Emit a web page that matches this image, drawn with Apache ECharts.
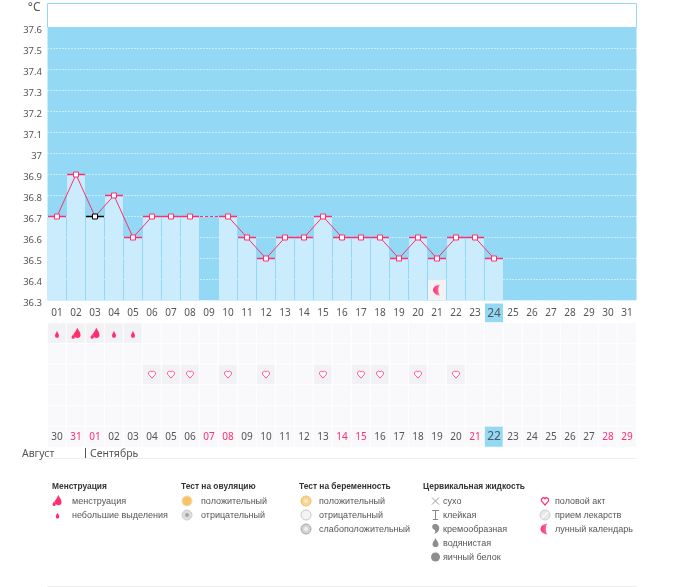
<!DOCTYPE html>
<html>
<head>
<meta charset="utf-8">
<title>График БТ</title>
<style>
html, body { margin: 0; padding: 0; background: #fff; }
#chart { width: 675px; height: 587px; }
</style>
<script src="https://cdn.jsdelivr.net/npm/echarts@6/dist/echarts.min.js"></script>
</head>
<body>
<div id="chart"></div>
<script>
var days = ['01','02','03','04','05','06','07','08','09','10','11','12','13','14','15','16',
    '17','18','19','20','21','22','23','24','25','26','27','28','29','30','31'];
var cycleDates = ['30','31','01','02','03','04','05','06','07','08','09','10','11','12','13','14',
    '15','16','17','18','19','20','21','22','23','24','25','26','27','28','29'];
var weekendDates = ['31','07','08','14','15','21','28','29'];
var temperature = [36.7,36.9,36.7,36.8,36.6,36.7,36.7,36.7,null,36.7,36.6,36.5,36.6,36.6,36.7,36.6,
    36.6,36.6,36.5,36.6,36.5,36.6,36.6,36.5];
var skippedBridge = [null,null,null,null,null,null,null,36.7,null,36.7];
var excludedDays = ['03'];
var moonDays = ['21'];
var moonLevel = 36.35;
var heavyFlowDays = ['02','03'];
var lightFlowDays = ['01','04','05'];
var sexDays = ['06','07','08','10','12','15','17','18','20','22'];
var rows = ['flow','ovulation','sex','mucus','pills','dates'];
var todayDay = '24';
var todayDate = '22';
var months = ['Август','Сентябрь'];
var legendTitles = ['Менструация','Тест на овуляцию','Тест на беременность','Цервикальная жидкость'];
var flowLabels = ['менструация','небольшие выделения'];
var ovulationLabels = ['положительный','отрицательный'];
var pregnancyLabels = ['положительный','отрицательный','слабоположительный'];
var mucusLabels = ['сухо','клейкая','кремообразная','водянистая','яичный белок'];
var otherLabels = ['половой акт','прием лекарств','лунный календарь'];

var FONT = '"Noto Sans", sans-serif';
var LEGEND_FONT = '"Liberation Sans", sans-serif';
var PINK = '#FF2E6C';
var BLUE = '#93D9F5';
var TEXT = '#555555';

var DROP = 'M5 0C6 4 10 7 10 11A5 5 0 0 1 0 11C0 7 4 4 5 0Z';
var DROPS = 'M7 0C8 3 11 5 11 9A4 4 0 0 1 3.6 11.4C3.6 10 3 9 2.4 8.6C3.6 6 6 4 7 0ZM2 8C2.4 10 4 11 4 12.4A2 2 0 0 1 0 12.4C0 11 1.6 10 2 8Z';
var HEART = 'M5 9L1 5A2.5 2.5 0 0 1 5 2A2.5 2.5 0 0 1 9 5Z';
var MOON = 'M6 0A6 6 0 0 0 6 12A2 6 0 0 1 6 0Z';
var CROSS = 'M0 0L10 10M10 0L0 10';
var GLASS = 'M0 0H8M4 0V10M1 10H7';
var COMMA = 'M4 0C8 0 10 3 9 6C8 9 6 10 3 11C5 9 5 7 3 6C0 5 0 0 4 0Z';
var SLASH = 'M0 10L10 0';

// фигуры для легенды: graphic понимает только зарегистрированные типы
var iconBox = {
    drop: { d: DROP, w: 10, h: 16 },
    drops: { d: DROPS, w: 11, h: 14.4 },
    heart: { d: HEART, w: 10, h: 9 },
    moon: { d: MOON, w: 6, h: 12 },
    cross: { d: CROSS, w: 10, h: 10 },
    glass: { d: GLASS, w: 8, h: 10 },
    comma: { d: COMMA, w: 9.5, h: 11 },
    slash: { d: SLASH, w: 10, h: 10 }
};
Object.keys(iconBox).forEach(function (k) {
    echarts.graphic.registerShape('icon_' + k, echarts.graphic.extendPath(iconBox[k].d, {}));
});

var moonFill = new echarts.graphic.LinearGradient(0, 0, 1, 0, [
    { offset: 0, color: '#FF2E6C' },
    { offset: 0.6, color: '#FF5C8D' },
    { offset: 1, color: '#FFB3C8' }
]);

function dayPoints(list, rowName) {
    return list.map(function (d) {
        return [d, rowName];
    });
}

// дни цикла и пустые ячейки под графиком
function cellData() {
    var out = [];
    rows.forEach(function (row, r) {
        days.forEach(function (d, i) {
            var active = (row === 'flow' && (heavyFlowDays.indexOf(d) >= 0 || lightFlowDays.indexOf(d) >= 0))
                || (row === 'sex' && sexDays.indexOf(d) >= 0);
            var item = {
                value: [i, r, 1],
                itemStyle: { color: active ? '#F2F2F4' : '#F9F8FA' }
            };
            if (row === 'dates') {
                var date = cycleDates[i];
                var today = date === todayDate && i === 23;
                var isPink = weekendDates.indexOf(date) >= 0 || i === 2;
                item.name = date;
                item.label = {
                    show: true,
                    color: isPink ? PINK : TEXT,
                    fontSize: today ? 12 : 10
                };
                if (today) {
                    item.itemStyle = { color: BLUE };
                }
            }
            out.push(item);
        });
    });
    return out;
}

function text(str, x, y, opts) {
    return {
        type: 'text',
        x: x,
        y: y,
        silent: true,
        style: Object.assign({
            text: str,
            fill: TEXT,
            font: '9px ' + LEGEND_FONT,
            verticalAlign: 'middle'
        }, opts || {})
    };
}

function icon(kind, cx, cy, w, h, style) {
    var box = iconBox[kind];
    return {
        type: 'icon_' + kind,
        silent: true,
        x: cx - w / 2,
        y: cy - h / 2,
        scaleX: w / box.w,
        scaleY: h / box.h,
        style: style
    };
}

function ring(cx, cy, r, fill, stroke) {
    return {
        type: 'circle',
        silent: true,
        shape: { cx: cx, cy: cy, r: r },
        style: { fill: fill, stroke: stroke || null, lineWidth: 1 }
    };
}

function legendGraphics() {
    var g = [];
    var textY = [502, 516, 530, 544, 558];
    var titleX = [52, 181, 299, 423];
    var GRAY = '#8E8E8E';

    legendTitles.forEach(function (t, i) {
        g.push(text(t, titleX[i], 487, { fill: '#333333', font: 'bold 8.4px ' + LEGEND_FONT }));
    });
    flowLabels.forEach(function (t, i) { g.push(text(t, 72, textY[i])); });
    ovulationLabels.forEach(function (t, i) { g.push(text(t, 201, textY[i])); });
    pregnancyLabels.forEach(function (t, i) { g.push(text(t, 319, textY[i])); });
    mucusLabels.forEach(function (t, i) { g.push(text(t, 443, textY[i])); });
    otherLabels.forEach(function (t, i) { g.push(text(t, 555, textY[i])); });

    g.push(icon('drops', 57, 500.5, 9, 11, { fill: PINK }));
    g.push(icon('drop', 57.5, 515.5, 3.5, 6, { fill: PINK }));

    g.push(ring(187, 501, 5, '#F5C468', '#F8DDAE'));
    g.push(ring(187, 515, 5, '#DDDDDD', '#CFCFCF'));
    g.push(ring(187, 515, 2, '#A5A5A5'));

    g.push(ring(306, 501, 5, '#F7D594', '#F3BE63'));
    g.push(ring(306, 501, 2, '#FBEBCB'));
    g.push(ring(306, 515, 5, '#F4F4F4', '#C8C8C8'));
    g.push(ring(306, 529, 5, '#D4D4D4', '#A9A9A9'));
    g.push(ring(306, 529, 2, '#F0F0F0'));

    g.push(icon('cross', 435.5, 501, 7, 7, { stroke: '#999999', fill: null, lineWidth: 1, strokeNoScale: true }));
    g.push(icon('glass', 435.5, 515, 7, 9, { stroke: '#888888', fill: null, lineWidth: 1, strokeNoScale: true }));
    g.push(icon('comma', 435.5, 529, 8, 10, { fill: GRAY }));
    g.push(icon('drop', 435.5, 542.5, 6, 9, { fill: GRAY }));
    g.push(ring(435.5, 557, 4.5, GRAY));

    g.push(icon('heart', 545, 501, 8, 8, { fill: '#fff', stroke: PINK, lineWidth: 1.2, strokeNoScale: true }));
    g.push(ring(545, 515, 5, '#E8E8E8', '#CFCFCF'));
    g.push(icon('slash', 545, 515, 6, 6, { stroke: '#FFFFFF', fill: null, lineWidth: 1.2, strokeNoScale: true }));
    g.push(icon('moon', 544.5, 529, 8, 11, { fill: moonFill }));
    return g;
}

var chart = echarts.init(document.getElementById('chart'), null, { renderer: 'canvas' });

var option = {
    animation: false,
    backgroundColor: '#fff',
    textStyle: { fontFamily: FONT },
    grid: [
        { left: 47.5, top: 27.5, width: 589, height: 273, show: true, backgroundColor: BLUE, borderWidth: 0 },
        { left: 47.5, top: 323, width: 589, height: 124 }
    ],
    xAxis: [{
        type: 'category',
        gridIndex: 0,
        data: days,
        axisLine: { show: false },
        axisTick: { show: false },
        axisLabel: {
            interval: 0,
            margin: 13,
            color: TEXT,
            fontSize: 10,
            verticalAlign: 'middle',
            formatter: function (v) {
                return v === todayDay ? '{today|' + v + '}' : v;
            },
            rich: {
                today: {
                    backgroundColor: BLUE,
                    width: 18,
                    height: 20,
                    lineHeight: 20,
                    align: 'center',
                    fontSize: 12,
                    color: TEXT
                }
            }
        }
    }, {
        type: 'category',
        gridIndex: 1,
        data: days,
        axisLine: { show: false },
        axisTick: { show: false },
        axisLabel: { show: false }
    }],
    yAxis: [{
        type: 'value',
        gridIndex: 0,
        min: 36.3,
        max: 37.6,
        interval: 0.1,
        name: '°C',
        nameLocation: 'end',
        nameGap: 14,
        nameTextStyle: { color: TEXT, fontSize: 12, align: 'right', padding: [0, 7, 0, 0] },
        axisLine: { show: false },
        axisTick: { show: false },
        axisLabel: { color: TEXT, fontSize: 9.5, margin: 5.5, verticalAlign: 'top', lineHeight: 5 },
        splitLine: {
            showMaxLine: false,
            lineStyle: { color: '#fff', width: 1, type: [1, 2] }
        }
    }, {
        type: 'category',
        gridIndex: 1,
        data: rows,
        inverse: true,
        axisLine: { show: false },
        axisTick: { show: false },
        axisLabel: { show: false }
    }],
    graphic: [{
        type: 'rect',
        silent: true,
        shape: { x: 47.5, y: 3.5, width: 589, height: 24 },
        style: { fill: '#fff', stroke: BLUE, lineWidth: 1 }
    }, {
        type: 'line',
        silent: true,
        shape: { x1: 85.5, y1: 429, x2: 85.5, y2: 458 },
        style: { stroke: '#555555', lineWidth: 1 }
    }, {
        type: 'line',
        silent: true,
        shape: { x1: 47, y1: 458.5, x2: 637, y2: 458.5 },
        style: { stroke: '#EEEEEE', lineWidth: 1 }
    }, {
        type: 'line',
        silent: true,
        shape: { x1: 47, y1: 586.5, x2: 637, y2: 586.5 },
        style: { stroke: '#EEEEEE', lineWidth: 1 }
    },
    text(months[0], 22, 454, { font: '10.5px ' + FONT }),
    text(months[1], 90, 454, { font: '10.5px ' + FONT })
    ].concat(legendGraphics()),
    series: [{
        name: 'days',
        type: 'bar',
        xAxisIndex: 0,
        yAxisIndex: 0,
        barWidth: 18,
        z: 2,
        itemStyle: { color: '#CBECFD' },
        data: temperature
    }, {
        name: 'caps',
        type: 'scatter',
        xAxisIndex: 0,
        yAxisIndex: 0,
        symbol: 'rect',
        symbolSize: [18, 1.5],
        z: 3,
        data: temperature.map(function (v, i) {
            return {
                value: [days[i], v],
                itemStyle: { color: excludedDays.indexOf(days[i]) >= 0 ? '#000' : PINK, opacity: 1 }
            };
        }).filter(function (p) {
            return p.value[1] !== null;
        })
    }, {
        name: 'bridge',
        type: 'line',
        xAxisIndex: 0,
        yAxisIndex: 0,
        connectNulls: true,
        symbol: 'none',
        z: 3,
        lineStyle: { color: PINK, width: 1, type: [3, 2] },
        data: skippedBridge
    }, {
        name: 'temperature',
        type: 'line',
        xAxisIndex: 0,
        yAxisIndex: 0,
        symbol: 'rect',
        symbolSize: 5,
        showAllSymbol: true,
        z: 4,
        lineStyle: { color: PINK, width: 1 },
        itemStyle: { color: '#fff', borderColor: PINK, borderWidth: 1 },
        data: temperature.map(function (v, i) {
            if (excludedDays.indexOf(days[i]) >= 0) {
                return { value: v, itemStyle: { color: '#fff', borderColor: '#000', borderWidth: 1 } };
            }
            return v;
        })
    }, {
        name: 'moonCell',
        type: 'scatter',
        xAxisIndex: 0,
        yAxisIndex: 0,
        symbol: 'rect',
        symbolSize: [18, 20],
        z: 5,
        itemStyle: { color: '#F2F2F4', opacity: 1 },
        data: moonDays.map(function (d) { return [d, moonLevel]; })
    }, {
        name: 'moon',
        type: 'scatter',
        xAxisIndex: 0,
        yAxisIndex: 0,
        symbol: 'path://' + MOON,
        symbolSize: [8, 11],
        z: 6,
        itemStyle: { color: moonFill, opacity: 1 },
        data: moonDays.map(function (d) { return [d, moonLevel]; })
    }, {
        name: 'cells',
        type: 'heatmap',
        xAxisIndex: 1,
        yAxisIndex: 1,
        z: 2,
        itemStyle: { borderColor: '#fff', borderWidth: 1 },
        label: {
            show: false,
            fontSize: 10,
            fontFamily: FONT,
            padding: [2, 0, 0, 0],
            formatter: function (p) {
                return p.name || '';
            }
        },
        emphasis: { disabled: true },
        data: cellData()
    }, {
        name: 'heavyFlow',
        type: 'scatter',
        xAxisIndex: 1,
        yAxisIndex: 1,
        symbol: 'path://' + DROPS,
        symbolSize: [9, 11],
        z: 3,
        itemStyle: { color: PINK, opacity: 1 },
        data: dayPoints(heavyFlowDays, 'flow')
    }, {
        name: 'lightFlow',
        type: 'scatter',
        xAxisIndex: 1,
        yAxisIndex: 1,
        symbol: 'path://' + DROP,
        symbolSize: [4, 7],
        symbolOffset: [0, 1],
        z: 3,
        itemStyle: { color: PINK, opacity: 1 },
        data: dayPoints(lightFlowDays, 'flow')
    }, {
        name: 'sex',
        type: 'scatter',
        xAxisIndex: 1,
        yAxisIndex: 1,
        symbol: 'path://' + HEART,
        symbolSize: [7, 7],
        z: 3,
        itemStyle: { color: '#fff', borderColor: '#FF5C8D', borderWidth: 1, opacity: 1 },
        data: dayPoints(sexDays, 'sex')
    }]
};

chart.setOption(option);
</script>
</body>
</html>
